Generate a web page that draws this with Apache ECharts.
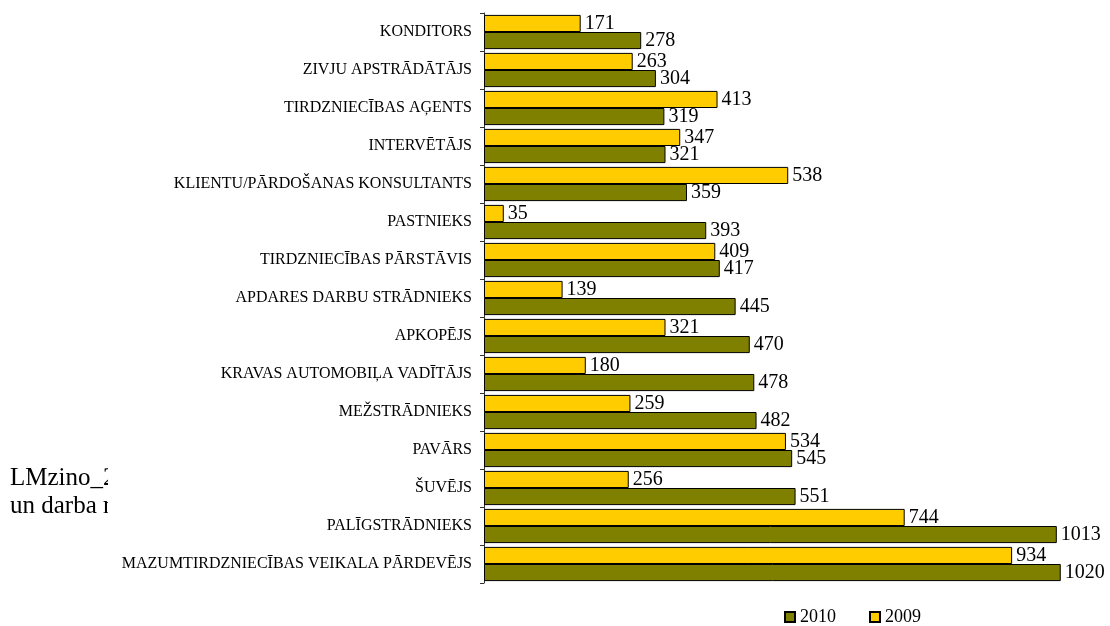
<!DOCTYPE html>
<html>
<head>
<meta charset="utf-8">
<script src="https://cdn.jsdelivr.net/npm/echarts@6/dist/echarts.min.js"></script>
<style>
  html, body { margin: 0; padding: 0; background: #fff; }
  #main { width: 1110px; height: 626px; }
</style>
</head>
<body>
<div id="main"></div>
<script>
var categories = [
    'KONDITORS',
    'ZIVJU APSTRĀDĀTĀJS',
    'TIRDZNIECĪBAS AĢENTS',
    'INTERVĒTĀJS',
    'KLIENTU/PĀRDOŠANAS KONSULTANTS',
    'PASTNIEKS',
    'TIRDZNIECĪBAS PĀRSTĀVIS',
    'APDARES DARBU STRĀDNIEKS',
    'APKOPĒJS',
    'KRAVAS AUTOMOBIĻA VADĪTĀJS',
    'MEŽSTRĀDNIEKS',
    'PAVĀRS',
    'ŠUVĒJS',
    'PALĪGSTRĀDNIEKS',
    'MAZUMTIRDZNIECĪBAS VEIKALA PĀRDEVĒJS'
];
var values2009 = [171, 263, 413, 347, 538, 35, 409, 139, 321, 180, 259, 534, 256, 744, 934];
var values2010 = [278, 304, 319, 321, 359, 393, 417, 445, 470, 478, 482, 545, 551, 1013, 1020];

var serifFont = '"Liberation Serif", "DejaVu Serif", serif';

var myChart = echarts.init(document.getElementById('main'));

var valueLabel = {
    show: true,
    position: 'right',
    distance: 4,
    color: '#000',
    fontFamily: serifFont,
    fontSize: 20
};

var option = {
    animation: false,
    backgroundColor: '#fff',
    graphic: [
        {
            type: 'text',
            left: 10,
            top: 464,
            z: 1,
            style: {
                text: 'LMzino_2\nun darba r',
                fontFamily: serifFont,
                fontSize: 25,
                lineHeight: 28,
                fill: '#000'
            }
        },
        {
            // chart area covers the text behind it
            type: 'rect',
            shape: { x: 108, y: 455, width: 200, height: 63 },
            z: 2,
            style: { fill: '#fff' }
        }
    ],
    grid: {
        left: 484,
        right: 4,
        top: 13,
        bottom: 43
    },
    legend: {
        data: ['2010', '2009'],
        left: 779,
        top: 603,
        icon: 'rect',
        itemWidth: 10,
        itemHeight: 10,
        itemGap: 33,
        textStyle: {
            fontFamily: serifFont,
            fontSize: 18,
            color: '#000'
        }
    },
    xAxis: {
        type: 'value',
        min: 0,
        max: 1100,
        show: false
    },
    yAxis: {
        type: 'category',
        data: categories,
        inverse: true,
        axisLine: { lineStyle: { color: '#333' } },
        axisTick: { show: true, length: 4, lineStyle: { color: '#333' } },
        axisLabel: {
            color: '#000',
            fontFamily: serifFont,
            fontSize: 16,
            margin: 12
        }
    },
    series: [
        {
            name: '2009',
            type: 'bar',
            data: values2009,
            barGap: '0%',
            barCategoryGap: '10%',
            itemStyle: { color: '#FFCC00', borderColor: '#000', borderWidth: 1 },
            label: valueLabel
        },
        {
            name: '2010',
            type: 'bar',
            data: values2010,
            itemStyle: { color: '#808000', borderColor: '#000', borderWidth: 1 },
            label: valueLabel
        }
    ]
};

myChart.setOption(option);
</script>
</body>
</html>
